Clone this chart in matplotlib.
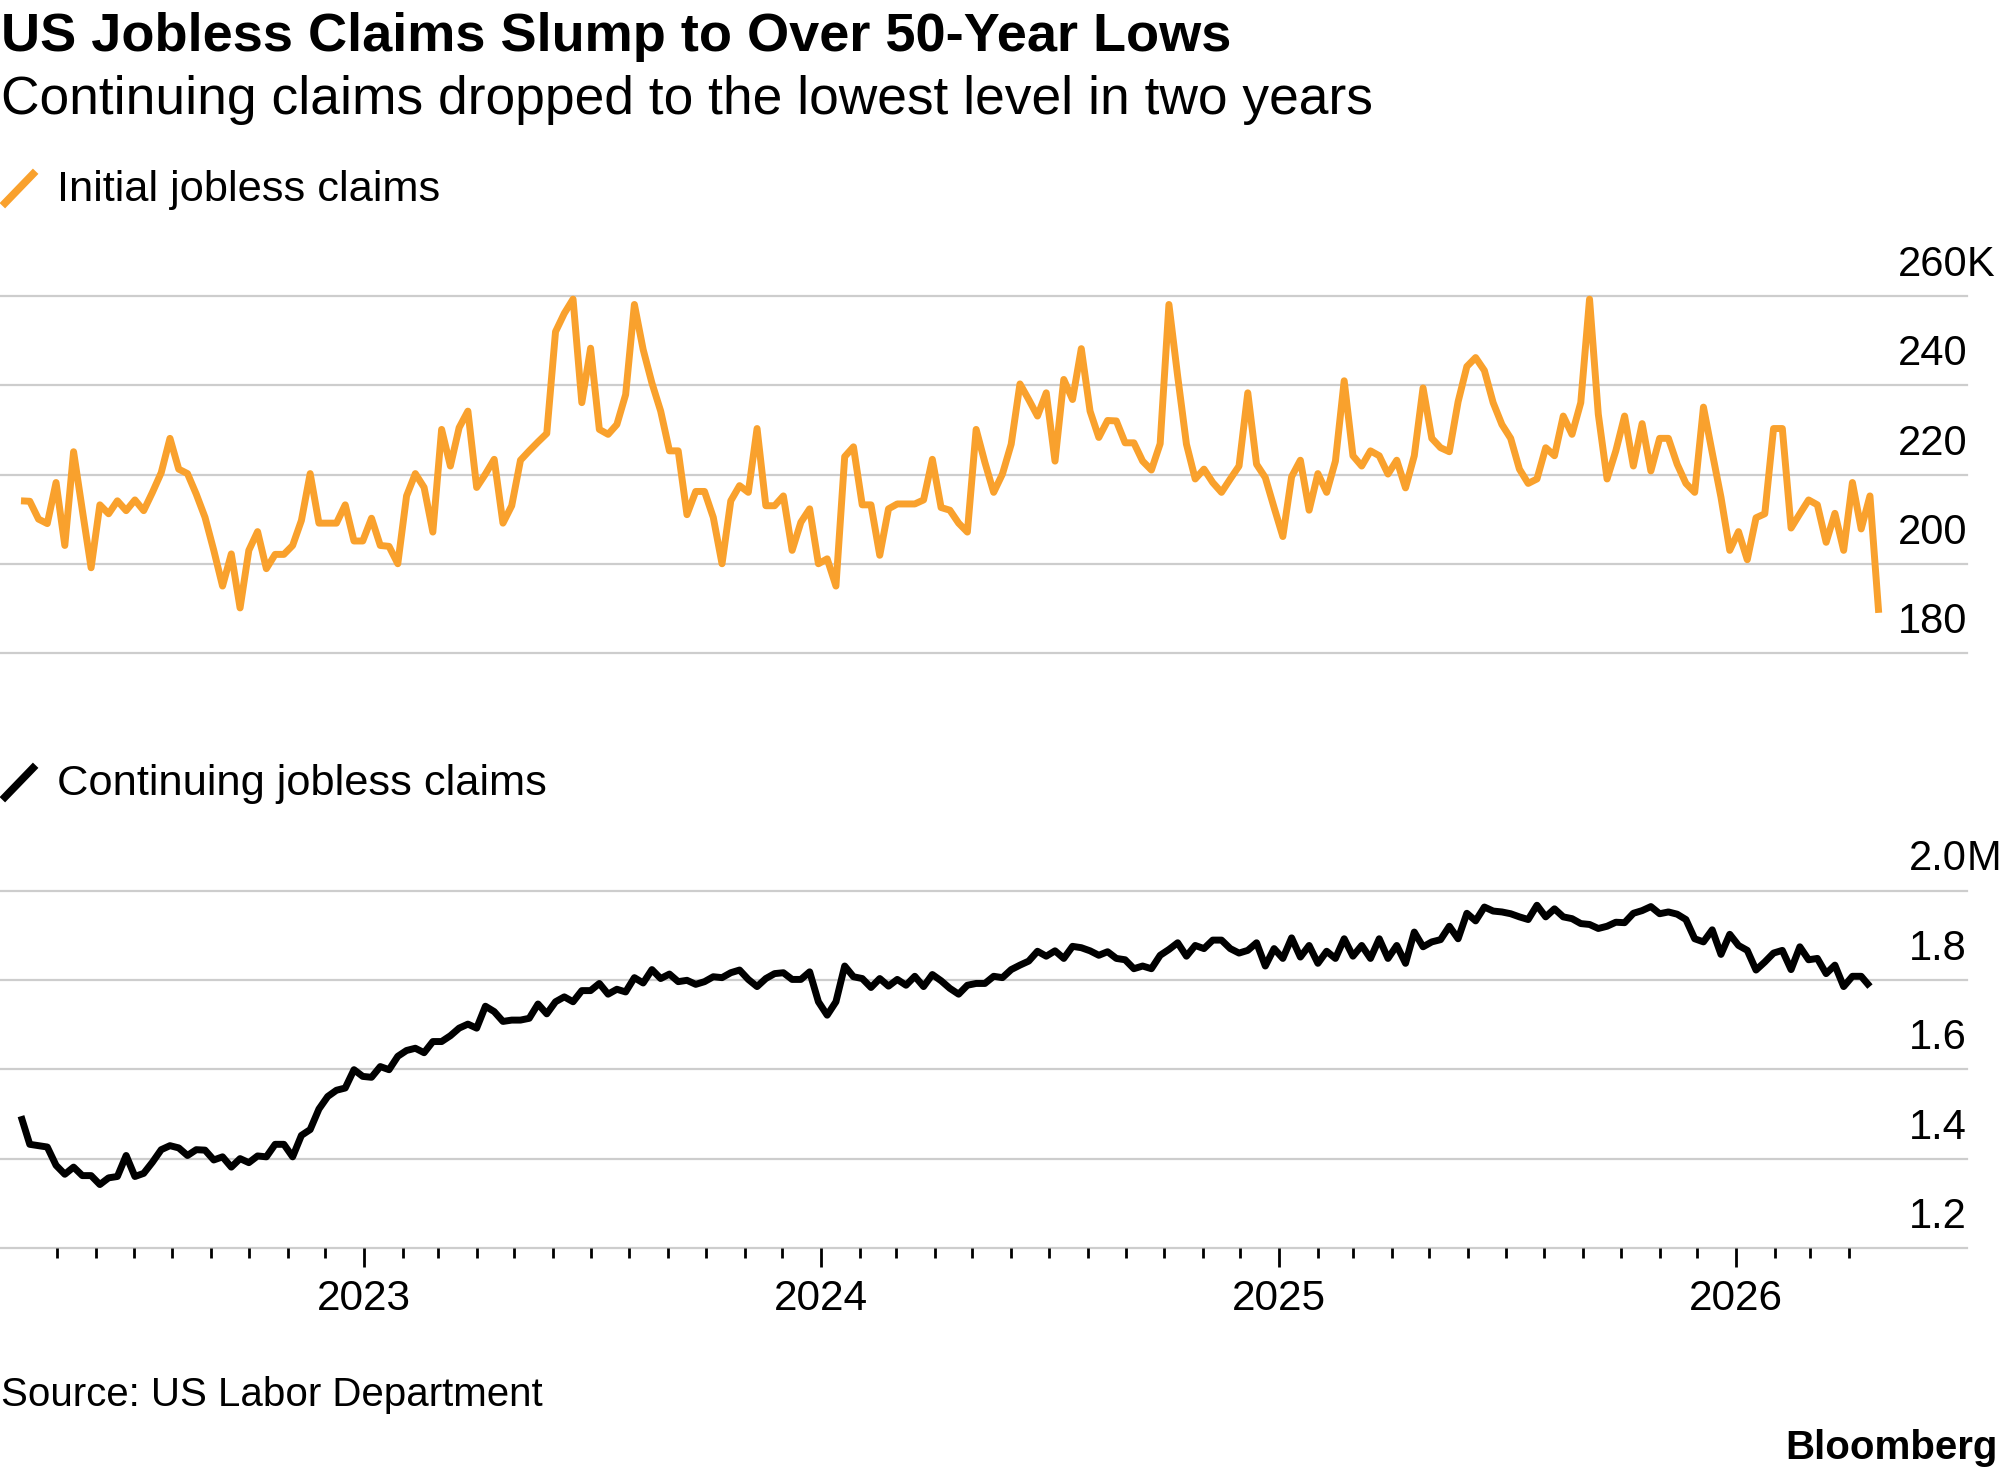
import numpy as np
import pandas as pd
import matplotlib
matplotlib.use("Agg")
import matplotlib.pyplot as plt
import matplotlib.dates as mdates
import matplotlib.transforms as mtransforms
from matplotlib.lines import Line2D

plt.rcParams["font.family"] = ["Liberation Sans", "DejaVu Sans"]

# weekly series, first week ending 2022-04-02
first_week = "2022-04-02"

# initial jobless claims, thousands
initial_claims = [
    214.1, 214.0, 210.0, 209.0, 218.2, 204.1, 225.1, 212.0, 199.1, 213.2,
    211.2, 214.1, 211.9, 214.3, 211.9, 216.0, 220.4, 228.1, 221.2, 220.2,
    215.6, 210.4, 203.0, 195.0, 202.2, 190.1, 203.0, 207.2, 198.9, 202.1,
    202.1, 204.1, 209.7, 220.2, 209.1, 209.1, 209.1, 213.2, 205.1, 205.1,
    210.2, 204.1, 203.9, 200.0, 215.2, 220.2, 217.1, 207.1, 230.1, 221.9,
    230.5, 234.2, 217.1, 220.1, 223.4, 209.1, 213.0, 223.2, 225.3, 227.3,
    229.2, 252.0, 256.1, 259.3, 236.1, 248.3, 230.1, 229.0, 231.2, 237.9,
    258.1, 248.0, 240.5, 234.2, 225.3, 225.3, 211.0, 216.2, 216.2, 210.4,
    200.0, 214.1, 217.5, 216.0, 230.3, 213.0, 213.0, 215.2, 203.0, 209.3,
    212.3, 200.0, 201.1, 195.0, 224.0, 226.2, 213.2, 213.2, 201.9, 212.3,
    213.4, 213.4, 213.4, 214.3, 223.4, 212.6, 212.0, 209.1, 207.1, 230.1,
    222.7, 216.0, 220.1, 226.8, 240.3, 236.8, 233.1, 238.3, 223.0, 241.3,
    236.8, 248.2, 234.2, 228.3, 232.1, 232.0, 227.1, 227.1, 223.0, 221.0,
    226.9, 258.1, 242.0, 226.8, 219.0, 221.2, 218.2, 216.0, 219.0, 221.9,
    238.3, 222.3, 219.3, 212.6, 206.1, 219.5, 223.2, 212.0, 220.2, 216.0,
    223.0, 241.0, 224.2, 221.9, 225.3, 224.2, 220.1, 223.2, 217.0, 224.2,
    239.4, 228.1, 226.0, 225.1, 236.3, 244.2, 246.2, 243.3, 236.1, 231.2,
    228.1, 221.2, 218.0, 219.0, 226.0, 224.2, 233.1, 229.0, 236.1, 259.3,
    233.5, 219.0, 225.3, 233.1, 221.9, 231.4, 220.8, 228.1, 228.1, 222.3,
    218.0, 216.0, 235.1, 224.9, 214.9, 203.0, 207.2, 200.9, 210.3, 211.2,
    230.3, 230.3, 208.0, 211.2, 214.3, 213.2, 204.8, 211.3, 203.0, 218.2,
    207.8, 215.2, 189.0,
]

# continuing jobless claims, millions
continuing_claims = [
    1.495, 1.432, 1.429, 1.426, 1.385, 1.365, 1.381, 1.362, 1.362, 1.342,
    1.357, 1.360, 1.407, 1.360, 1.367, 1.392, 1.420, 1.429, 1.424, 1.407,
    1.420, 1.419, 1.397, 1.404, 1.381, 1.400, 1.391, 1.406, 1.404, 1.432,
    1.432, 1.404, 1.452, 1.465, 1.511, 1.539, 1.553, 1.558, 1.599, 1.584,
    1.582, 1.606, 1.599, 1.629, 1.642, 1.647, 1.637, 1.662, 1.662, 1.675,
    1.692, 1.701, 1.692, 1.741, 1.729, 1.707, 1.710, 1.710, 1.714, 1.746,
    1.724, 1.751, 1.762, 1.751, 1.776, 1.776, 1.792, 1.768, 1.779, 1.773,
    1.805, 1.793, 1.823, 1.803, 1.813, 1.796, 1.799, 1.790, 1.796, 1.807,
    1.805, 1.816, 1.822, 1.801, 1.785, 1.803, 1.814, 1.816, 1.801, 1.801,
    1.818, 1.751, 1.721, 1.751, 1.831, 1.807, 1.803, 1.783, 1.803, 1.786,
    1.801, 1.788, 1.808, 1.785, 1.812, 1.798, 1.781, 1.768, 1.788, 1.792,
    1.792, 1.808, 1.805, 1.823, 1.833, 1.842, 1.864, 1.853, 1.865, 1.848,
    1.875, 1.872, 1.865, 1.855, 1.863, 1.848, 1.845, 1.825, 1.831, 1.825,
    1.855, 1.868, 1.883, 1.853, 1.877, 1.870, 1.889, 1.889, 1.870, 1.860,
    1.866, 1.883, 1.831, 1.870, 1.848, 1.894, 1.851, 1.877, 1.837, 1.864,
    1.848, 1.892, 1.853, 1.877, 1.848, 1.892, 1.848, 1.877, 1.837, 1.907,
    1.874, 1.885, 1.890, 1.920, 1.892, 1.949, 1.932, 1.963, 1.954, 1.952,
    1.948, 1.941, 1.935, 1.967, 1.941, 1.959, 1.941, 1.937, 1.926, 1.924,
    1.915, 1.920, 1.929, 1.928, 1.949, 1.955, 1.964, 1.948, 1.952, 1.947,
    1.935, 1.892, 1.885, 1.912, 1.857, 1.902, 1.877, 1.866, 1.822, 1.840,
    1.860, 1.866, 1.823, 1.874, 1.845, 1.848, 1.814, 1.833, 1.785, 1.808,
    1.808, 1.785,
]

initial_ticks = [180, 200, 220, 240, 260]
continuing_ticks = [1.2, 1.4, 1.6, 1.8, 2.0]

ORANGE = "#f9a12d"
GRID = "#cdcdcd"

W, H = 2001, 1476
fig = plt.figure(figsize=(W / 100, H / 100), dpi=100)


def fx(px):
    return px / W


def fy(py):
    return 1 - py / H


initial_dates = pd.date_range(first_week, periods=len(initial_claims), freq="W-SAT")
continuing_dates = pd.date_range(first_week, periods=len(continuing_claims), freq="W-SAT")

# horizontal scale: Jan 2023 at 364px, Jan 2026 at 1736px, plot area 0..1967px
x23 = mdates.date2num(pd.Timestamp("2023-01-01"))
x26 = mdates.date2num(pd.Timestamp("2026-01-01"))
days_per_px = (x26 - x23) / (1736 - 364)
xlim = (x23 - 364 * days_per_px, x23 + (1967 - 364) * days_per_px)

ax1 = fig.add_axes([0, fy(653), fx(1967), (653 - 296) / H])
ax2 = fig.add_axes([0, fy(1248), fx(1967), (1248 - 890.5) / H])

for ax, ticks in [(ax1, initial_ticks), (ax2, continuing_ticks)]:
    ax.set_xlim(xlim)
    ax.set_ylim(ticks[0], ticks[-1])
    for s in ax.spines.values():
        s.set_visible(False)
    ax.set_yticks([])
    for v in ticks:
        ax.axhline(v, color=GRID, lw=1.6, zorder=1, clip_on=False)

ax1.set_xticks([])


# value labels sit just above their gridlines, right aligned, unit hangs right
def y_labels(ax, ticks, fmt, unit):
    trans = mtransforms.offset_copy(ax.get_yaxis_transform(), fig=fig,
                                    x=0, y=14.4, units="points")
    for v in ticks:
        ax.text(1.0, v, fmt.format(v), transform=trans, ha="right",
                va="baseline", fontsize=30, color="black")
    ax.text(1.0, ticks[-1], unit, transform=trans, ha="left",
            va="baseline", fontsize=30, color="black")


y_labels(ax1, initial_ticks, "{:.0f}", "K")
y_labels(ax2, continuing_ticks, "{:.1f}", "M")

ax1.plot(initial_dates, initial_claims, color=ORANGE, lw=5,
         solid_joinstyle="round", solid_capstyle="butt", clip_on=False, zorder=3)
ax2.plot(continuing_dates, continuing_claims, color="black", lw=5,
         solid_joinstyle="round", solid_capstyle="butt", clip_on=False, zorder=3)

# x axis: long ticks for years, short for months
month_ticks = [d for d in pd.date_range("2022-05-01", "2026-04-01", freq="MS") if d.month != 1]
ax2.xaxis.set_major_locator(mdates.YearLocator())
ax2.xaxis.set_major_formatter(mdates.DateFormatter("%Y"))
ax2.xaxis.set_minor_locator(matplotlib.ticker.FixedLocator(mdates.date2num(month_ticks)))
ax2.tick_params(axis="x", which="major", length=13.7, width=2, color="black",
                pad=8.5, labelsize=30.5, labelcolor="black")
ax2.tick_params(axis="x", which="minor", length=7.2, width=2, color="black")

# header
fig.text(fx(1), fy(51), "US Jobless Claims Slump to Over 50-Year Lows",
         fontsize=39, fontweight="bold", va="baseline")
fig.text(fx(1), fy(114), "Continuing claims dropped to the lowest level in two years",
         fontsize=38.4, va="baseline")

# legends
fig.add_artist(Line2D([fx(5), fx(33)], [fy(203), fy(174)], color=ORANGE, lw=5.5,
                      transform=fig.transFigure))
fig.text(fx(57), fy(201), "Initial jobless claims", fontsize=31.2, va="baseline")
fig.add_artist(Line2D([fx(5), fx(33)], [fy(797), fy(768)], color="black", lw=5.5,
                      transform=fig.transFigure))
fig.text(fx(57), fy(795), "Continuing jobless claims", fontsize=31.2, va="baseline")

# footer
fig.text(fx(1), fy(1406), "Source: US Labor Department", fontsize=29, va="baseline")
fig.text(fx(1998), fy(1459), "Bloomberg", fontsize=29, fontweight="bold",
         ha="right", va="baseline")

fig.savefig("out.png", dpi=100)
